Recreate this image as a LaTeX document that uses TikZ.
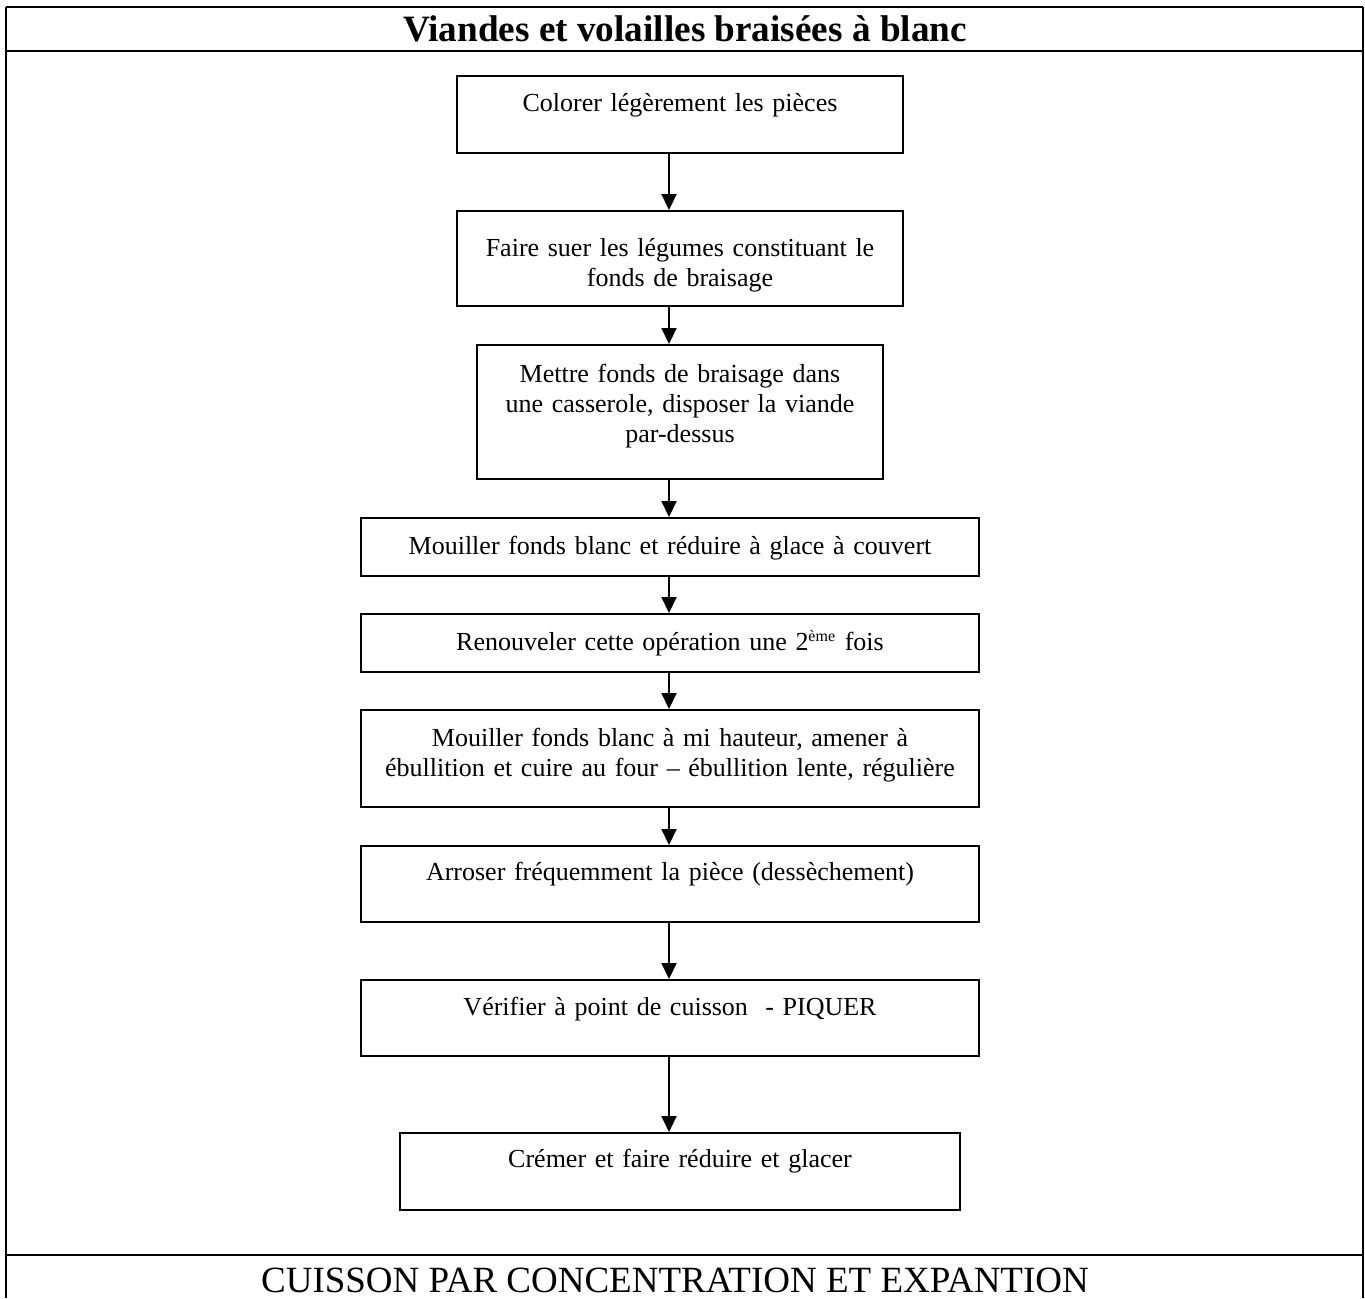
\documentclass[tikz,border=0pt]{standalone}
\usepackage{fontspec}
\setmainfont{Liberation Serif}
\usepackage{tikz}
\usetikzlibrary{positioning, arrows.meta}

\begin{document}
\begin{tikzpicture}[x=0.5pt, y=-0.5pt,
  etape/.style={draw, line width=1pt, inner sep=0pt, anchor=north west, align=center,
    font=\fontsize{13}{15}\selectfont},
  fleche/.style={-{Triangle[width=7.5pt, length=8pt]}, line width=1pt},
  cadre/.style={line width=1.25pt},
  bord/.style={line width=1pt}]
\useasboundingbox (0,0) rectangle (1365,1298);
\draw[cadre] (6,7) -- (1363,7);
\draw[cadre] (6,51) -- (1363,51);
\draw[cadre] (6,1255) -- (1363,1255);
\draw[bord] (6,7) -- (6,1298);
\draw[bord] (1363,7) -- (1363,1298);
\node[anchor=base, font=\fontsize{18.6}{22}\selectfont\bfseries] (titre) at (685,41) {Viandes et volailles braisées à blanc};
\node[anchor=base, font=\fontsize{18.5}{22}\selectfont] (pied) at (675,1292) {CUISSON PAR CONCENTRATION ET EXPANTION};
\coordinate (ax) at (669,0);
\node[etape, text width=223pt, text height=17.5pt, text depth=21pt] (colorer) at (456,75) {Colorer légèrement les pièces};
\node[etape, text width=223pt, text height=22.5pt, text depth=25pt] (suer) at (456,210) {Faire suer les légumes constituant le\\fonds de braisage};
\node[etape, text width=203pt, text height=18.5pt, text depth=48.5pt] (mettre) at (476,344) {Mettre fonds de braisage dans\\une casserole, disposer la viande\\par-dessus};
\node[etape, text width=309pt, text height=18pt, text depth=11pt] (mouiller) at (360,517) {Mouiller fonds blanc et réduire à glace à couvert};
\node[etape, text width=309pt, text height=18pt, text depth=11pt] (renouveler) at (360,613) {Renouveler cette opération une 2\textsuperscript{\footnotesize ème} fois};
\node[etape, text width=309pt, text height=18pt, text depth=30.5pt] (cuire) at (360,709) {Mouiller fonds blanc à mi hauteur, amener à\\ébullition et cuire au four – ébullition lente, régulière};
\node[etape, text width=309pt, text height=17pt, text depth=21pt] (arroser) at (360,845) {Arroser fréquemment la pièce (dessèchement)};
\node[etape, text width=309pt, text height=17.5pt, text depth=20.5pt] (verifier) at (360,979) {Vérifier à point de cuisson \ - PIQUER};
\node[etape, text width=280pt, text height=17pt, text depth=21.5pt] (cremer) at (399,1132) {Crémer et faire réduire et glacer};
\draw[fleche] (colorer.south -| ax) -- (suer.north -| ax);
\draw[fleche] (suer.south -| ax) -- (mettre.north -| ax);
\draw[fleche] (mettre.south -| ax) -- (mouiller.north -| ax);
\draw[fleche] (mouiller.south -| ax) -- (renouveler.north -| ax);
\draw[fleche] (renouveler.south -| ax) -- (cuire.north -| ax);
\draw[fleche] (cuire.south -| ax) -- (arroser.north -| ax);
\draw[fleche] (arroser.south -| ax) -- (verifier.north -| ax);
\draw[fleche] (verifier.south -| ax) -- (cremer.north -| ax);
\end{tikzpicture}
\end{document}
